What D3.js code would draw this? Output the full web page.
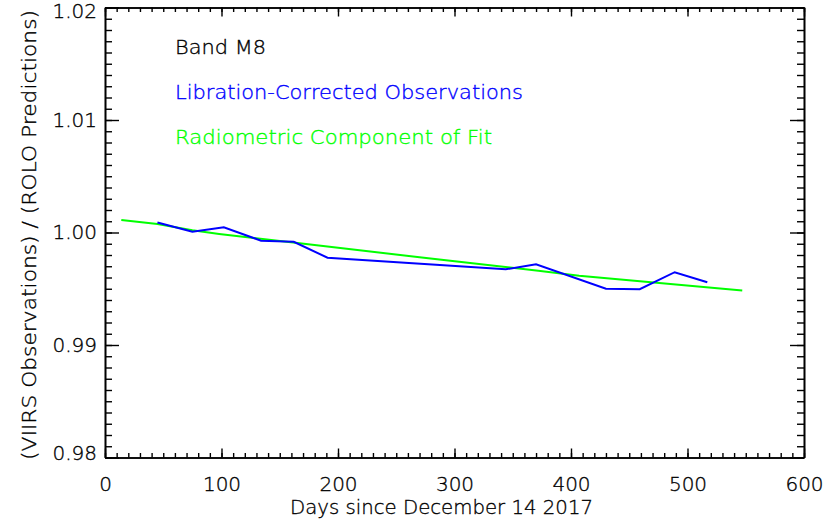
<!DOCTYPE html>
<html>
<head>
<meta charset="utf-8">
<script src="https://cdn.jsdelivr.net/npm/d3@7"></script>
<style>
  html, body { margin: 0; padding: 0; background: #fff; }
  svg { display: block; }
  text { font-family: "DejaVu Sans", "Liberation Sans", sans-serif; font-weight: 200; }
</style>
</head>
<body>
<svg id="chart" width="829" height="522"></svg>
<script>
// Libration-corrected lunar observation ratios (days since 2017-12-14)
const obsDays   = [45, 75, 102, 134, 162, 191, 344, 370, 430, 459, 489, 517];
const obsRatio  = [1.00089, 1.00007, 1.00046, 0.99927, 0.99918, 0.99776,
                   0.99673, 0.99718, 0.99501, 0.99496, 0.99647, 0.99558];

// Radiometric component of the fitted model
const fitDays   = [14, 45, 75, 98, 167, 270, 304, 372, 407, 547];
const fitRatio  = [1.00111, 1.00075, 1.00020, 0.99987, 0.99904, 0.99780,
                   0.99741, 0.99660, 0.99616, 0.99485];

// Axis ticks
const xTicks = [0, 100, 200, 300, 400, 500, 600];
const yTicks = [0.98, 0.99, 1.00, 1.01, 1.02];
const yTickLabels = ["0.98", "0.99", "1.00", "1.01", "1.02"];

// Legend entries
const legendLabels = ["Band M8", "Libration-Corrected Observations", "Radiometric Component of Fit"];
const legendColors = ["#000000", "#0000ff", "#00ff00"];
const legendWidths = [91, 348, 317];

const svg = d3.select("#chart");
const L = 105, R = 804, T = 7.5, B = 457.5;

const x = d3.scaleLinear().domain([0, 600]).range([L, R]);
const y = d3.scaleLinear().domain([0.98, 1.02]).range([B, T]);

const xMinor = d3.range(0, 601, 10);
const yMinor = d3.range(0, 41).map(i => 0.98 + i * 0.001);

const majX = 9, minX = 4.5, majY = 14, minY = 7;

function styleText(sel, color) {
  sel.attr("fill", color).attr("stroke", color).attr("stroke-width", 0.35)
    .style("font-family", "'DejaVu Sans', 'Liberation Sans', sans-serif")
    .style("font-weight", 200);
}

function styleAxis(g) {
  g.selectAll("path.domain").attr("stroke", "#000").attr("stroke-width", 1.6);
  g.selectAll(".tick line").attr("stroke", "#000").attr("stroke-width", 1.4);
  g.selectAll(".tick text").attr("font-size", 20).call(styleText, "#000");
}

// Bottom axis: major ticks with labels, minor ticks without
svg.append("g").attr("transform", `translate(0,${B})`)
  .call(d3.axisBottom(x).tickValues(xMinor).tickSize(-minX).tickSizeOuter(0).tickFormat(""))
  .call(styleAxis);
svg.append("g").attr("transform", `translate(0,${B})`)
  .call(d3.axisBottom(x).tickValues(xTicks).tickSize(-majX).tickSizeOuter(0)
        .tickPadding(19).tickFormat(d3.format("d")))
  .call(styleAxis);

// Top axis (mirrored ticks)
svg.append("g").attr("transform", `translate(0,${T})`)
  .call(d3.axisTop(x).tickValues(xMinor).tickSize(-minX).tickSizeOuter(0).tickFormat(""))
  .call(styleAxis);
svg.append("g").attr("transform", `translate(0,${T})`)
  .call(d3.axisTop(x).tickValues(xTicks).tickSize(-majX).tickSizeOuter(0).tickFormat(""))
  .call(styleAxis);

// Left axis
svg.append("g").attr("transform", `translate(${L},0)`)
  .call(d3.axisLeft(y).tickValues(yMinor).tickSize(-minY).tickSizeOuter(0).tickFormat(""))
  .call(styleAxis);
const yAxisG = svg.append("g").attr("transform", `translate(${L},0)`)
  .call(d3.axisLeft(y).tickValues(yTicks).tickSize(-majY).tickSizeOuter(0)
        .tickPadding(8).tickFormat((d, i) => yTickLabels[i]))
  .call(styleAxis);
// keep the end labels inside the frame
yAxisG.selectAll(".tick text")
  .attr("y", d => d === 1.02 ? 3.5 : (d === 0.98 ? -4 : 0));

// Right axis (mirrored ticks)
svg.append("g").attr("transform", `translate(${R},0)`)
  .call(d3.axisRight(y).tickValues(yMinor).tickSize(-minY).tickSizeOuter(0).tickFormat(""))
  .call(styleAxis);
svg.append("g").attr("transform", `translate(${R},0)`)
  .call(d3.axisRight(y).tickValues(yTicks).tickSize(-majY).tickSizeOuter(0).tickFormat(""))
  .call(styleAxis);

// Axis titles
svg.append("text")
  .attr("x", 441.5).attr("y", 514)
  .attr("text-anchor", "middle").attr("font-size", 20)
  .attr("textLength", 303).attr("lengthAdjust", "spacingAndGlyphs")
  .call(styleText, "#000")
  .text("Days since December 14 2017");

svg.append("text")
  .attr("transform", "translate(36,235) rotate(-90)")
  .attr("text-anchor", "middle").attr("font-size", 20)
  .attr("textLength", 450).attr("lengthAdjust", "spacingAndGlyphs")
  .call(styleText, "#000")
  .text("(VIIRS Observations) / (ROLO Predictions)");

// Data lines
const line = d3.line().x(d => x(d[0])).y(d => y(d[1]));

svg.append("path")
  .datum(fitDays.map((d, i) => [d, fitRatio[i]]))
  .attr("fill", "none").attr("stroke", "#00ff00").attr("stroke-width", 2)
  .attr("d", line);

svg.append("path")
  .datum(obsDays.map((d, i) => [d, obsRatio[i]]))
  .attr("fill", "none").attr("stroke", "#0000ff").attr("stroke-width", 2)
  .attr("d", line);

// Legend text
legendLabels.forEach((t, i) => {
  svg.append("text")
    .attr("x", 175).attr("y", 54.3 + i * 44.6)
    .attr("font-size", 20)
    .attr("textLength", legendWidths[i]).attr("lengthAdjust", "spacingAndGlyphs")
    .call(styleText, legendColors[i])
    .text(t);
});
</script>
</body>
</html>
